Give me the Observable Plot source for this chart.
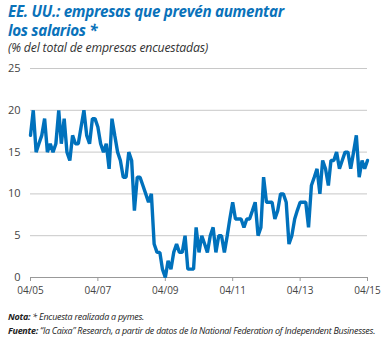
<!DOCTYPE html>
<html><head><meta charset="utf-8">
<script src="https://cdn.jsdelivr.net/npm/d3@7"></script>
<script src="https://cdn.jsdelivr.net/npm/@observablehq/plot@0.6"></script>
<style>
body{margin:0;width:385px;height:338px;overflow:hidden;background:#fff;font-family:"Open Sans",sans-serif;position:relative}
#title{position:absolute;left:8px;top:2px;color:#0a72ba;font-weight:700;font-style:italic;font-size:15.2px;line-height:19px;letter-spacing:-0.3px}
#sub{position:absolute;left:8px;top:39px;color:#333;font-style:italic;font-size:12.3px;letter-spacing:-0.2px}
#chart{position:absolute;left:0;top:58px}
#notes{position:absolute;left:8px;top:310px;color:#222;font-style:italic;font-size:8.95px;line-height:14px;letter-spacing:-0.25px}
</style></head><body>
<div id="title">EE. UU.: empresas que prevén aumentar<br>los salarios *</div>
<div id="sub">(% del total de empresas encuestadas)</div>
<div id="chart"></div>
<div id="notes"><b>Nota:</b> * Encuesta realizada a pymes.<br><b>Fuente:</b> “la Caixa” Research, a partir de datos de la National Federation of Independent Businesses.</div>
<script>
const startYear = 2005, startMonth = 3; // April 2005
const values = [
17,20,15,16,17,19,15,16,15,16,20,16,19,15,14,17,16,16,18,20,17,16,19,19,
18,16,15,16,13,19,17,15,14,12,12,15,14,8,12,12,11,10,9,10,4,3,3,1,
0,2,1,3,4,3,3,5,1,1,1,6,3,5,4,3,5,6,3,5,5,3,5,7,
9,7,7,7,6,7,7,8,9,5,6,12,9,9,9,7,8,10,10,9,4,5,7,8,
9,9,9,6,11,12,13,10,14,13,11,14,14,15,13,14,15,15,13,15,17,12,14,13,14
];
const xTicks = ["2005-04","2007-04","2009-04","2011-04","2013-04","2015-04"];
const yTicks = [0,5,10,15,20,25];

const data = values.map((v,i)=>({date:new Date(Date.UTC(startYear, startMonth+i, 1)), value:v}));
const tickDates = xTicks.map(s=>new Date(s+"-01T00:00:00Z"));

const chart = Plot.plot({
  width:385, height:245,
  marginLeft:30, marginRight:18, marginTop:10, marginBottom:26,
  style:{fontFamily:"Open Sans, sans-serif", fontSize:"10px", color:"#444", background:"transparent"},
  x:{type:"utc", domain:[tickDates[0], tickDates[tickDates.length-1]], label:null},
  y:{domain:[0,25], label:null},
  marks:[
    Plot.gridY(yTicks.filter(d=>d>0), {stroke:"#c8c8c8", strokeOpacity:1, strokeWidth:1}),
    Plot.axisY({ticks:yTicks, tickSize:0, tickPadding:10, fontSize:11, fill:"#444", label:null}),
    Plot.axisX({ticks:tickDates, tickFormat:d3.utcFormat("%m/%y"), tickSize:4, fill:"#444", stroke:"#999", label:null}),
    Plot.ruleY([0], {stroke:"#999"}),
    Plot.lineY(data, {x:"date", y:"value", stroke:"#0071bc", strokeWidth:3.4, strokeLinejoin:"miter"})
  ]
});
document.getElementById("chart").appendChild(chart);
</script>
</body></html>
